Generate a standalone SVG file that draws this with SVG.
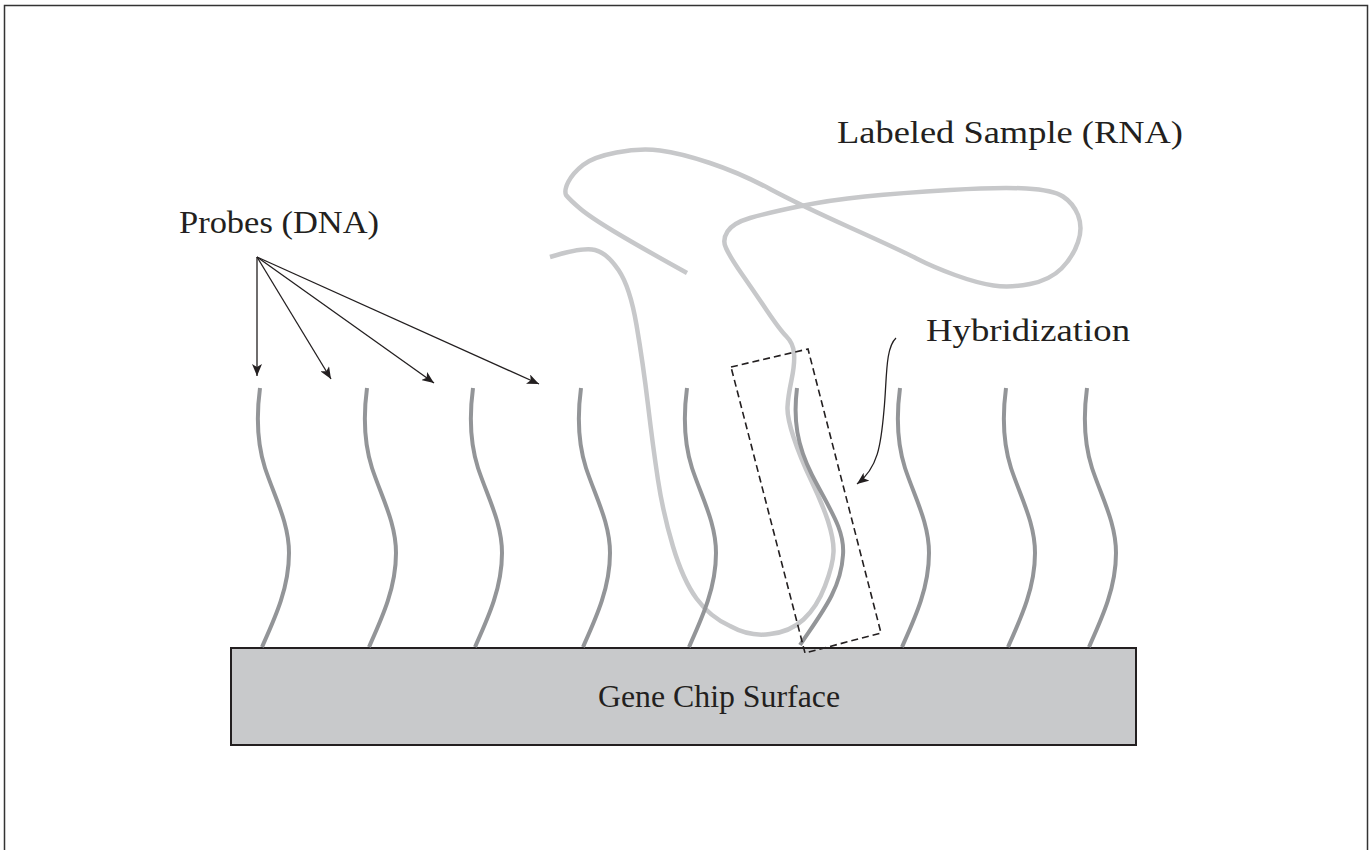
<svg xmlns="http://www.w3.org/2000/svg" width="1372" height="850" viewBox="0 0 1372 850">
<style>
.txt{font-family:"Liberation Serif","Times New Roman",serif;font-size:32px;fill:#231f20}
.probe{fill:none;stroke:#939598;stroke-width:4;stroke-linecap:butt}
.rna{fill:none;stroke:#c7c8ca;stroke-width:4.5;stroke-linecap:butt;stroke-linejoin:round}
.ptr{fill:none;stroke:#231f20;stroke-width:1.3}
</style>
<defs>
<marker id="ah" viewBox="0 0 12 10" refX="12" refY="5" markerWidth="12" markerHeight="10" markerUnits="userSpaceOnUse" orient="auto">
<path d="M0,0 L12,5 L0,10 L3,5 Z" fill="#231f20"/>
</marker>
<path id="pr" d="M0,0 C-4,30 -3,55 5,80 C15,110 29,135 29,165 C29,200 15,230 2,259"/>
</defs>
<rect x="4.5" y="5.5" width="1363" height="870" fill="#fff" stroke="#333" stroke-width="1.5"/>

<g id="chip">
<rect x="231" y="648" width="905" height="97" fill="#c8c9cb" stroke="#231f20" stroke-width="2"/>
<text class="txt" x="598" y="707" textLength="242" lengthAdjust="spacingAndGlyphs">Gene Chip Surface</text>
</g>

<g id="rna-sample">
<path class="rna" d="M550,257 Q583,247 595,250 Q607,253 618.5,270 Q630,287 636.5,325 Q643,363 648,405 Q653,447 658,480 Q663,513 673,546.5 Q683,580 696.5,598.5 Q710,617 730,626 Q750,637 770,634 Q790,632 803.5,619.5 Q817,607 825,586 Q833,565 833.5,552 Q834,540 828,521 Q822,503 811,480 Q800,457 793.5,437 Q787,417 787.5,407 Q788,397 791.5,380 Q795,363 794,353 Q793,343 786.5,336.5 Q780,330 766.5,310 Q753,290 741.5,273.5 Q730,257 726,248 Q722,240 727.5,231.5 Q733,223 750,218 Q767,213 798.5,206.5 Q830,200 865,196.5 Q900,193 950,190 Q1000,187 1026.5,188.5 Q1053,190 1063,196.5 Q1073,203 1078,215 Q1083,228 1078,242 Q1073,257 1061.5,268.5 Q1050,280 1030,284 Q1010,288 993.5,285.5 Q977,283 955,275 Q933,267 916.5,258.5 Q900,250 850,227.5 Q800,205 770,189 Q740,173 710,163 Q680,153 660,150.5 Q640,148 616.5,152.5 Q593,157 583,165 Q573,173 568.5,181.5 Q564,190 566,195 Q570,200 580,208.5 Q590,217 615,232 Q640,247 687,273"/>
<text class="txt" x="837" y="143" textLength="346" lengthAdjust="spacingAndGlyphs">Labeled Sample (RNA)</text>
</g>

<g id="probes">
<use href="#pr" class="probe" x="260" y="388"/>
<use href="#pr" class="probe" x="367" y="388"/>
<use href="#pr" class="probe" x="473" y="388"/>
<use href="#pr" class="probe" x="581" y="388"/>
<use href="#pr" class="probe" x="687" y="388"/>
<path class="probe" d="M797,388 C793,420 797,445 812,475 C830,510 845,530 843,555 C841,590 820,615 800,645"/>
<use href="#pr" class="probe" x="900" y="388"/>
<use href="#pr" class="probe" x="1006" y="388"/>
<use href="#pr" class="probe" x="1087" y="388"/>
<text class="txt" x="179" y="233" textLength="200" lengthAdjust="spacingAndGlyphs">Probes (DNA)</text>
</g>

<g id="hybridization">
<polygon points="731,367 808,349 881,633 805,653" fill="none" stroke="#231f20" stroke-width="1.6" stroke-dasharray="7,4"/>
<text class="txt" x="926" y="341" textLength="204" lengthAdjust="spacingAndGlyphs">Hybridization</text>
</g>

<g id="connectors">
<line class="ptr" x1="257" y1="257" x2="257" y2="376" marker-end="url(#ah)"/>
<line class="ptr" x1="257" y1="257" x2="331" y2="379" marker-end="url(#ah)"/>
<line class="ptr" x1="257" y1="257" x2="434" y2="383" marker-end="url(#ah)"/>
<line class="ptr" x1="257" y1="257" x2="539" y2="384" marker-end="url(#ah)"/>
<path class="ptr" d="M896,338 C885,348 887,380 884,410 C881,445 878,468 857,484" marker-end="url(#ah)"/>
</g>
</svg>
